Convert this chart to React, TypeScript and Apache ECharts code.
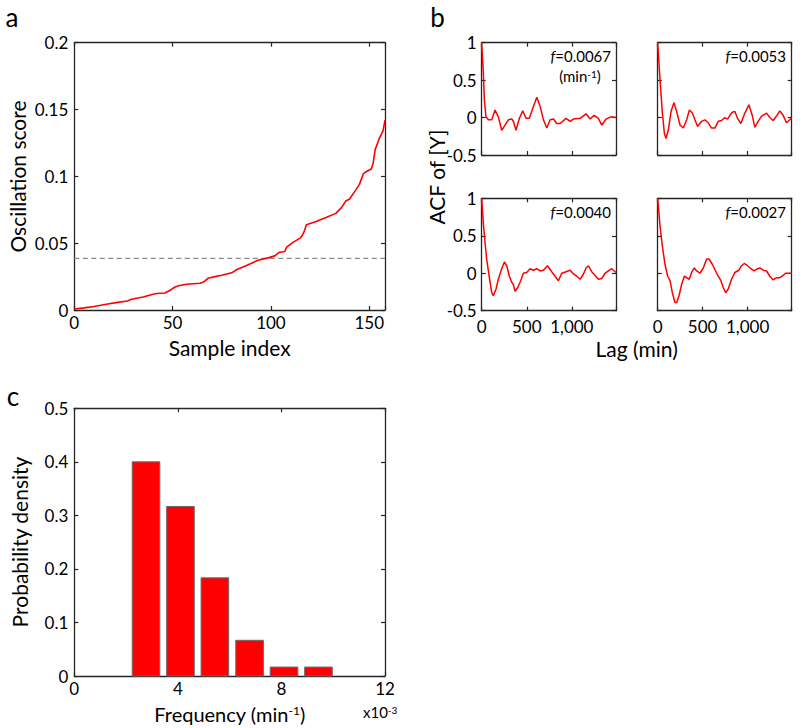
import React, { useEffect, useRef } from 'react';
import * as echarts from 'echarts';

const FONT = 'Lato, "Open Sans", "DejaVu Sans", sans-serif';
const RED = '#ff0000';
const AXIS = '#262626';

// ---------- Panel a: oscillation score vs sample index ----------
const sampleIndex = [0, 5, 10, 17, 22, 27, 29, 35, 40, 42, 46, 49, 51, 53, 57, 64, 66, 68, 71, 75, 80, 83, 87, 91, 93, 99, 102, 104, 107, 108, 111, 115, 116, 117, 118, 123, 128, 133, 136, 138, 140, 143, 145, 147, 149, 151, 152, 153, 155, 157, 158];
const oscillationScore = [0.0008, 0.0016, 0.0026, 0.0045, 0.0057, 0.0067, 0.008, 0.0097, 0.0118, 0.0123, 0.0127, 0.015, 0.017, 0.0182, 0.0193, 0.02, 0.0212, 0.0237, 0.0248, 0.026, 0.0278, 0.0305, 0.033, 0.0355, 0.037, 0.0392, 0.0405, 0.043, 0.0438, 0.047, 0.0504, 0.054, 0.056, 0.059, 0.0638, 0.0662, 0.0692, 0.0723, 0.0768, 0.0815, 0.083, 0.0895, 0.094, 0.102, 0.104, 0.1055, 0.11, 0.12, 0.128, 0.134, 0.142];
const scoreThreshold = 0.0387;
const sampleTicks = [0, 50, 100, 150];
const scoreTicks = [0, 0.05, 0.1, 0.15, 0.2];

// ---------- Panel b: ACF of [Y] ----------
const lagTicks = [0, 500, 1000];
const lagTickLabels = ['0', '500', '1,000'];
const acfTicks = [-0.5, 0, 0.5, 1];
const acfTickLabels = ['-0.5', '0', '0.5', '1'];
const acfFreqLabels = ['0.0067', '0.0053', '0.0040', '0.0027'];

const acf1Lag = [0, 18, 30, 48, 74, 111, 148, 185, 222, 259, 296, 333, 351, 381, 418, 455, 492, 529, 566, 611, 648, 685, 722, 759, 796, 833, 870, 936, 981, 1018, 1092, 1158, 1203, 1247, 1295, 1332, 1380, 1432, 1490];
const acf1Val = [1.0, 0.6, 0.23, 0.01, -0.03, -0.03, 0.1, 0.01, -0.17, -0.1, -0.03, -0.02, -0.05, -0.17, -0.01, 0.09, -0.01, -0.01, 0.12, 0.27, 0.15, -0.03, -0.14, -0.03, -0.02, -0.08, -0.08, -0.01, -0.05, -0.02, -0.01, 0.05, -0.02, 0.03, -0.01, -0.1, -0.02, 0.01, 0.0];

const acf2Lag = [0, 26, 52, 74, 92, 118, 148, 181, 211, 248, 285, 322, 352, 385, 414, 444, 488, 525, 562, 599, 636, 673, 710, 747, 777, 803, 829, 858, 888, 925, 969, 1014, 1051, 1080, 1117, 1155, 1210, 1247, 1284, 1321, 1358, 1395, 1432, 1469, 1490];
const acf2Val = [1.0, 0.5, 0.06, -0.21, -0.28, -0.17, 0.08, 0.2, 0.08, -0.1, -0.14, -0.03, 0.1, 0.06, -0.03, -0.12, -0.05, -0.03, -0.07, -0.14, -0.14, -0.05, -0.04, 0.0, -0.02, 0.03, 0.07, 0.08, -0.01, -0.08, 0.06, 0.17, 0.03, -0.13, -0.05, 0.02, 0.06, 0.0, -0.04, 0.02, 0.09, 0.03, -0.07, -0.03, 0.0];

const acf3Lag = [0, 18, 37, 55, 85, 111, 129, 159, 185, 222, 252, 278, 307, 333, 351, 370, 400, 433, 462, 499, 537, 574, 611, 648, 685, 729, 777, 814, 851, 888, 936, 981, 1018, 1055, 1092, 1129, 1158, 1184, 1221, 1258, 1295, 1332, 1369, 1406, 1443, 1490];
const acf3Val = [1.0, 0.67, 0.41, 0.19, -0.06, -0.26, -0.3, -0.21, -0.08, 0.06, 0.15, 0.1, -0.04, -0.12, -0.15, -0.24, -0.19, -0.1, 0.0, 0.01, 0.06, 0.04, 0.06, 0.03, 0.04, 0.1, 0.02, -0.04, -0.1, 0.0, 0.02, 0.04, -0.01, -0.04, -0.08, -0.01, 0.07, 0.1, 0.02, -0.03, -0.08, -0.07, 0.0, 0.03, 0.06, 0.01];

const acf4Lag = [0, 26, 52, 81, 111, 137, 163, 192, 211, 237, 266, 296, 322, 351, 377, 407, 433, 470, 507, 544, 570, 607, 644, 673, 703, 729, 755, 784, 821, 858, 903, 932, 962, 999, 1036, 1073, 1110, 1136, 1173, 1210, 1247, 1284, 1321, 1358, 1395, 1421, 1490];
const acf4Val = [1.0, 0.63, 0.36, 0.12, -0.04, -0.1, -0.26, -0.39, -0.39, -0.3, -0.15, -0.04, -0.06, -0.08, 0.01, 0.07, 0.03, 0.0, 0.07, 0.19, 0.19, 0.12, 0.03, -0.04, -0.1, -0.19, -0.26, -0.21, -0.08, 0.01, 0.04, 0.1, 0.13, 0.1, 0.06, 0.03, 0.06, 0.07, 0.04, 0.03, -0.04, -0.09, -0.06, -0.06, -0.03, 0.0, 0.0];

// ---------- Panel c: histogram of frequencies (x10^-3 min^-1) ----------
const freqBinCenters = [2.77, 4.1, 5.43, 6.77, 8.1, 9.43];
const probabilityDensity = [0.4, 0.3167, 0.1833, 0.0667, 0.0167, 0.0167];
const freqTicks = [0, 4, 8, 12];
const densityTicks = [0, 0.1, 0.2, 0.3, 0.4, 0.5];

const BIN_WIDTH = 1.333;
const BAR_FRACTION = 0.8;

type AxisOpts = {
  min: number;
  max: number;
  interval: number;
  labels: boolean;
  formatter?: (v: number) => string;
  margin?: number;
};

function axisPair(kind: 'x' | 'y', gridIndex: number, o: AxisOpts) {
  const base = {
    type: 'value',
    gridIndex,
    min: o.min,
    max: o.max,
    interval: o.interval,
    splitLine: { show: false },
    axisLine: { show: true, onZero: false, lineStyle: { color: AXIS, width: 1.3 } },
    axisTick: { show: true, inside: true, length: 4, lineStyle: { color: AXIS, width: 1.2 } },
  };
  const main = {
    ...base,
    position: kind === 'x' ? 'bottom' : 'left',
    axisLabel: {
      show: o.labels,
      color: '#000',
      fontFamily: FONT,
      fontSize: 17,
      margin: o.margin ?? 5,
      formatter: o.formatter,
      showMinLabel: true,
      showMaxLabel: true,
    },
  };
  const mirror = {
    ...base,
    position: kind === 'x' ? 'top' : 'right',
    axisLabel: { show: false },
  };
  return [main, mirror];
}

const fromTicks = (ticks: number[], labels?: string[]) => (v: number) => {
  const i = ticks.findIndex((t) => Math.abs(t - v) < 1e-9);
  if (i < 0) return '';
  return labels ? labels[i] : String(ticks[i]);
};

export default function App() {
  const ref = useRef<HTMLDivElement>(null);

  useEffect(() => {
    if (!ref.current) return;
    const chart = echarts.init(ref.current, undefined, { renderer: 'svg' });

    const grids = [
      { left: 74.3, top: 42.7, width: 310.7, height: 267.3 }, // a
      { left: 481.7, top: 42.7, width: 134.3, height: 112.3 }, // b TL
      { left: 657.7, top: 42.7, width: 134.0, height: 112.3 }, // b TR
      { left: 481.7, top: 198.3, width: 134.3, height: 112.4 }, // b BL
      { left: 657.7, top: 198.3, width: 134.0, height: 112.4 }, // b BR
      { left: 74.3, top: 408.3, width: 310.7, height: 267.7 }, // c
    ];

    const xAxes: any[] = [];
    const yAxes: any[] = [];
    // panel a
    xAxes.push(...axisPair('x', 0, { min: 0, max: 158, interval: 50, labels: true, formatter: fromTicks(sampleTicks), margin: 4 }));
    yAxes.push(...axisPair('y', 0, { min: 0, max: 0.2, interval: 0.05, labels: true, formatter: fromTicks(scoreTicks), margin: 6 }));
    // panel b
    for (let k = 0; k < 4; k++) {
      const bottomRow = k >= 2;
      const leftCol = k % 2 === 0;
      xAxes.push(...axisPair('x', k + 1, { min: 0, max: 1490, interval: 500, labels: bottomRow, formatter: fromTicks(lagTicks, lagTickLabels), margin: 7 }));
      yAxes.push(...axisPair('y', k + 1, { min: -0.5, max: 1, interval: 0.5, labels: leftCol, formatter: fromTicks(acfTicks, acfTickLabels), margin: 5 }));
    }
    // panel c
    xAxes.push(...axisPair('x', 5, { min: 0, max: 12, interval: 4, labels: true, formatter: fromTicks(freqTicks), margin: 4 }));
    yAxes.push(...axisPair('y', 5, { min: 0, max: 0.5, interval: 0.1, labels: true, formatter: fromTicks(densityTicks), margin: 6 }));

    const acfLags = [acf1Lag, acf2Lag, acf3Lag, acf4Lag];
    const acfVals = [acf1Val, acf2Val, acf3Val, acf4Val];

    const series: any[] = [
      {
        type: 'line',
        xAxisIndex: 0,
        yAxisIndex: 0,
        data: [[0, scoreThreshold], [158, scoreThreshold]],
        symbol: 'none',
        lineStyle: { color: '#8a8a8a', width: 1.3, type: [5, 3.5] },
        z: 2,
      },
      {
        type: 'line',
        xAxisIndex: 0,
        yAxisIndex: 0,
        data: sampleIndex.map((x, i) => [x, oscillationScore[i]]),
        symbol: 'none',
        lineStyle: { color: RED, width: 1.6 },
        z: 3,
      },
    ];
    for (let k = 0; k < 4; k++) {
      series.push({
        type: 'line',
        xAxisIndex: 2 * (k + 1),
        yAxisIndex: 2 * (k + 1),
        data: acfLags[k].map((x, i) => [x, acfVals[k][i]]),
        symbol: 'none',
        lineStyle: { color: RED, width: 1.5 },
        z: 3,
      });
    }
    series.push({
      type: 'custom',
      xAxisIndex: 10,
      yAxisIndex: 10,
      encode: { x: 0, y: 1 },
      data: freqBinCenters.map((c, i) => [c, probabilityDensity[i]]),
      renderItem: (_params: any, api: any) => {
        const x = api.value(0) as number;
        const y = api.value(1) as number;
        const half = (BIN_WIDTH * BAR_FRACTION) / 2;
        const tl = api.coord([x - half, y]);
        const br = api.coord([x + half, 0]);
        return {
          type: 'rect',
          shape: { x: tl[0], y: tl[1], width: br[0] - tl[0], height: br[1] - tl[1] },
          style: { fill: RED, stroke: '#6a6a6a', lineWidth: 1 },
        };
      },
      z: 2,
    });

    const txt = (text: string, x: number, y: number, size: number, opts: any = {}) => ({
      type: 'text',
      x,
      y,
      rotation: opts.rotation ?? 0,
      style: {
        text,
        fontFamily: FONT,
        fontSize: size,
        fill: '#000',
        align: opts.align ?? 'center',
        textAlign: opts.align ?? 'center',
        verticalAlign: 'middle',
        textVerticalAlign: 'middle',
        rich: opts.rich,
      },
      z: 10,
    });

    const supRich = (size: number, supSize: number) => ({
      t: { fontFamily: FONT, fontSize: size, fill: '#000', color: '#000' },
      s: { fontFamily: FONT, fontSize: supSize, fill: '#000', color: '#000', verticalAlign: 'top', lineHeight: supSize + 2 },
    });
    const fRich = (size: number) => ({
      i: { fontFamily: FONT, fontSize: size, fontStyle: 'italic', fill: '#000', color: '#000' },
      n: { fontFamily: FONT, fontSize: size, fill: '#000', color: '#000' },
    });

    const annX = [611, 786, 611, 786];
    const annY = [55.5, 55.5, 212, 212];

    const graphics: any[] = [
      txt('a', 12, 17, 26),
      txt('b', 437.5, 17, 26),
      txt('c', 13, 396, 26),
      txt('Oscillation score', 17.5, 176.5, 21, { rotation: Math.PI / 2 }),
      txt('Sample index', 229.7, 347, 21),
      txt('ACF of [Y]', 436, 177, 21, { rotation: Math.PI / 2 }),
      txt('Lag (min)', 636.7, 348, 21),
      txt('Probability density', 19.5, 542, 21, { rotation: Math.PI / 2 }),
      txt('{t|Frequency (min}{s|-1}{t|)}', 229.7, 714, 20, { rich: supRich(20, 12) }),
      txt('{t|x10}{s|-3}', 363, 712, 15, { align: 'left', rich: supRich(15, 10) }),
      txt('{t|(min}{s|-1}{t|)}', 580, 76, 15, { rich: supRich(15, 10) }),
    ];
    for (let k = 0; k < 4; k++) {
      graphics.push(txt(`{i|f}{n|=${acfFreqLabels[k]}}`, annX[k], annY[k], 15, { align: 'right', rich: fRich(15) }));
    }

    chart.setOption({
      animation: false,
      backgroundColor: '#ffffff',
      grid: grids.map((g) => ({ ...g, containLabel: false })),
      xAxis: xAxes,
      yAxis: yAxes,
      series,
      graphic: graphics,
    });

    return () => chart.dispose();
  }, []);

  return (
    <div
      ref={ref}
      style={{ position: 'fixed', left: 0, top: 0, width: 800, height: 728, background: '#fff' }}
    />
  );
}
